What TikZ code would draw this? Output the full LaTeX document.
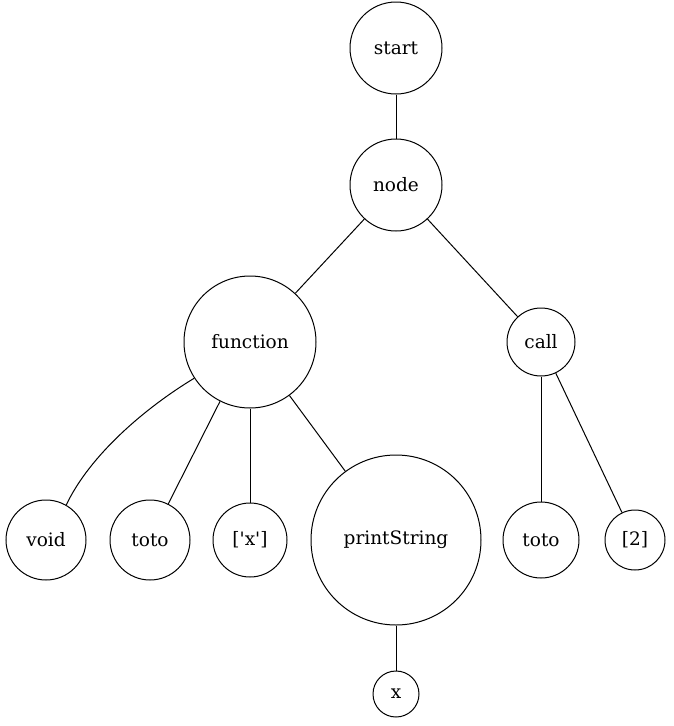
\documentclass[tikz,border=0pt]{standalone}
\usepackage{fontspec}
\setmainfont{DejaVu Serif}
\begin{document}
\begin{tikzpicture}[x=1pt,y=-1pt,
  tn/.style={circle,draw,line width=1pt,inner sep=0pt,font=\fontsize{18.5}{22}\selectfont},
  edge/.style={line width=1pt}]
\useasboundingbox (0,0) rectangle (673,726);
\node[tn,minimum size=92pt] (start) at (396,48) {start};
\node[tn,minimum size=92pt] (nd) at (396,185) {node};
\node[tn,minimum size=132pt] (func) at (250,342) {function};
\node[tn,minimum size=68pt] (call) at (541,342) {call};
\node[tn,minimum size=80pt] (void) at (46,540) {void};
\node[tn,minimum size=80pt] (totoa) at (150,540) {toto};
\node[tn,minimum size=74pt] (xlist) at (250,540) {[\textquotesingle x\textquotesingle]};
\node[tn,minimum size=170pt] (prints) at (396,540) {printString};
\node[tn,minimum size=76pt] (totob) at (541,540) {toto};
\node[tn,minimum size=60pt] (two) at (635,540) {[2]};
\node[tn,minimum size=46pt] (x) at (396,694) {x};
\draw[edge] (start) -- (nd);
\draw[edge] (nd) -- (func);
\draw[edge] (nd) -- (call);
\draw[edge] (func.213) .. controls (145,408) and (90,455) .. (void.60);
\draw[edge] (func) -- (totoa);
\draw[edge] (func) -- (xlist);
\draw[edge] (func) -- (prints);
\draw[edge] (call) -- (totob);
\draw[edge] (call) -- (two);
\draw[edge] (prints) -- (x);
\end{tikzpicture}
\end{document}
